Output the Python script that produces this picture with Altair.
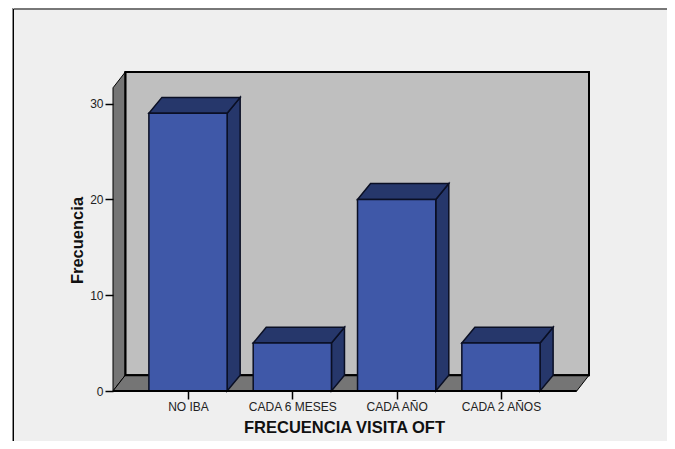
import altair as alt
import pandas as pd

categories = ["NO IBA", "CADA 6 MESES", "CADA AÑO", "CADA 2 AÑOS"]
values = [29, 5, 20, 5]
y_ticks = [0, 10, 20, 30]

# scale geometry (data units)
X_MIN, X_MAX = -0.719, 3.844
Y_MAX = 33.3
HALF = 0.375          # half bar width
DX_BAR, DX_WALL = 0.125, 0.118   # depth offset in x
DY = 1.65             # depth offset in y
WALL_R = X_MAX - DX_WALL

W, H = 476, 319
x_scale = alt.Scale(domain=[X_MIN, X_MAX], nice=False, zero=False)
y_scale = alt.Scale(domain=[0, Y_MAX], nice=False, zero=False)

label_expr = "[" + ",".join(f"'{c}'" for c in categories) + "][datum.value]"
x_axis = alt.Axis(
    values=[0, 1, 2, 3], labelExpr=label_expr, grid=False, domain=False, zindex=1,
    tickColor="#000000", tickWidth=1.5, tickSize=8, labelFont="Liberation Sans",
    labelFontSize=12, labelColor="#222222", labelPadding=2,
    title="FRECUENCIA VISITA OFT", titleFont="Liberation Sans", titleFontSize=16.5,
    titleFontWeight="bold", titleColor="#111111", titleX=231, titleY=28,
    titleAnchor="middle", titleAlign="center")
y_axis = alt.Axis(
    values=y_ticks, format="d", grid=False, domain=False, zindex=1,
    tickColor="#000000", tickWidth=1.5, tickSize=8, labelFont="Liberation Sans",
    labelFontSize=12, labelColor="#222222", labelPadding=2,
    title="Frecuencia", titleFont="Liberation Sans", titleFontSize=16.5,
    titleFontWeight="bold", titleColor="#111111", titleX=-28, titleY=168,
    titleAnchor="middle", titleAlign="center")

X = alt.X("x:Q", scale=x_scale, axis=x_axis)
Y = alt.Y("y:Q", scale=y_scale, axis=y_axis)
Y2 = alt.Y2("y2:Q")

bars = pd.DataFrame({
    "cat": categories, "v": values,
    "x": [i - HALF for i in range(4)],
    "x2": [i + HALF for i in range(4)],
    "y": values, "y2": [0] * 4,
})

top_rows, side_rows = [], []
for i, (c, v) in enumerate(zip(categories, values)):
    l, r = i - HALF, i + HALF
    top_rows += [
        dict(cat=c, x=l, y=v, y2=v),
        dict(cat=c, x=l + DX_BAR, y=v + DY, y2=v),
        dict(cat=c, x=r, y=v + DY, y2=v),
        dict(cat=c, x=r + DX_BAR, y=v + DY, y2=v + DY),
    ]
    side_rows += [
        dict(cat=c, x=r, y=v, y2=0),
        dict(cat=c, x=r + DX_BAR, y=v + DY, y2=DY),
    ]
top_df = pd.DataFrame(top_rows)
side_df = pd.DataFrame(side_rows)

# Frame of the chart
frame_shadow = alt.Chart(pd.DataFrame({"a": [0]})).mark_rect(
    fill="#efefef", stroke="#8a8a8a", strokeWidth=1
).encode(x=alt.value(-100.5), x2=alt.value(600), y=alt.value(-64.5), y2=alt.value(400))
frame = alt.Chart(pd.DataFrame({"a": [0]})).mark_rect(
    fill="#efefef", stroke="#000000", strokeWidth=1
).encode(x=alt.value(-99.5), x2=alt.value(600), y=alt.value(-63), y2=alt.value(400))

# Walls
back = alt.Chart(pd.DataFrame({"x": [X_MIN + DX_WALL], "x2": [X_MAX], "y": [Y_MAX], "y2": [DY]})).mark_rect(
    fill="#bfbfbf", stroke="#000000", strokeWidth=2
).encode(x=X, x2="x2:Q", y=Y, y2=Y2)

left_wall = alt.Chart(pd.DataFrame({
    "x": [X_MIN, X_MIN + DX_WALL], "y": [Y_MAX - DY, Y_MAX], "y2": [0, DY]
})).mark_area(color="#757575", stroke="#000000", strokeWidth=1).encode(x=X, y=Y, y2=Y2)

floor = alt.Chart(pd.DataFrame({
    "x": [X_MIN, X_MIN + DX_WALL, WALL_R, X_MAX],
    "y": [0, DY, DY, DY], "y2": [0, 0, 0, DY]
})).mark_area(color="#757575", stroke="#000000", strokeWidth=1).encode(x=X, y=Y, y2=Y2)

back_edges = alt.Chart(pd.DataFrame({
    "x": [X_MIN + DX_WALL, X_MIN + DX_WALL, X_MAX], "y": [Y_MAX, DY, DY], "o": [0, 1, 2]
})).mark_line(color="#000000", strokeWidth=2).encode(x=X, y=Y, order="o:Q")

# Bars
side = alt.Chart(side_df).mark_area(color="#26376b", stroke="#0a0f24", strokeWidth=1.5).encode(
    x=X, y=Y, y2=Y2, detail="cat:N")
top = alt.Chart(top_df).mark_area(color="#26376b", stroke="#0a0f24", strokeWidth=1.5).encode(
    x=X, y=Y, y2=Y2, detail="cat:N")
front = alt.Chart(bars).mark_rect(color="#3f58a8", stroke="#0a0f24", strokeWidth=1.5).encode(
    x=X, x2="x2:Q", y=Y, y2=Y2)

baseline = alt.Chart(pd.DataFrame({"x": [X_MIN], "x2": [WALL_R], "y": [0]})).mark_rule(
    color="#000000", strokeWidth=2
).encode(x=X, x2="x2:Q", y=Y)

chart = alt.layer(
    frame_shadow, frame, back, left_wall, floor, back_edges, side, top, front, baseline
).properties(
    width=W, height=H, background="#ffffff",
    padding={"left": 105, "top": 64, "right": 78, "bottom": 50},
    autosize=alt.AutoSizeParams(type="none"),
).configure_view(stroke=None)

chart.save("out.html", embed_options={"renderer": "svg", "actions": False})
